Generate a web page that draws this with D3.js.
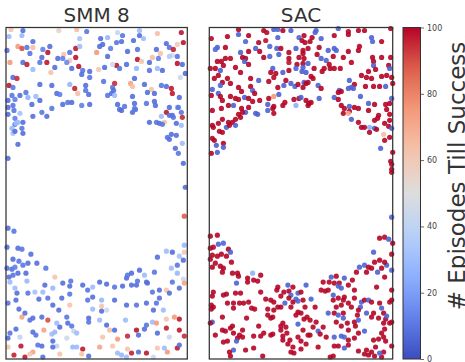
<!DOCTYPE html>
<html>
<head>
<meta charset="utf-8">
<script src="https://cdn.jsdelivr.net/npm/d3@7"></script>
<style>
  body { margin: 0; background: #fff; }
  svg { display: block; }
  text { font-family: "DejaVu Sans", sans-serif; }
</style>
</head>
<body>
<div id="chart"></div>
<script>
// panel titles
var titles = ["SMM 8", "SAC"];

// colorbar ticks
var cbTicks = [0, 20, 40, 60, 80, 100];
var cbLabel = "# Episodes Till Success";

// [x, y, episodes], x/y in arena units (0..182, 0..332)
var smmPoints = [
  [5,330,62],[17,329,8],[53,329,55],[71,330,64],[81,328,10],[3,323,30],[16,324,28],[74,321,32],
  [27,318,8],[12,313,75],[16,311,90],[21,312,10],[27,312,64],[1,309,8],[37,310,12],[44,313,8],
  [42,307,98],[70,311,97],[74,313,30],[58,305,62],[64,307,10],[52,301,8],[57,301,12],[64,299,60],
  [70,302,98],[4,297,75],[17,297,8],[24,306,10],[36,302,8],[41,297,97],[21,295,96],[34,297,10],
  [49,292,8],[61,297,14],[73,293,98],[66,291,8],[77,289,10],[84,288,8],[93,290,60],[27,290,30],
  [45,287,62],[76,285,8],[84,282,10],[7,282,8],[11,281,95],[3,274,97],[7,272,10],[34,275,8],
  [46,274,8],[64,275,28],[69,271,96],[72,266,64],[80,274,8],[80,269,10],[83,265,8],[51,266,8],
  [54,265,12],[20,267,10],[30,263,30],[22,262,26],[14,264,8],[6,264,10],[2,259,8],[9,260,12],
  [34,259,8],[57,255,8],[62,257,10],[66,257,8],[76,254,12],[84,255,8],[46,251,10],[2,252,8],
  [8,249,10],[14,246,32],[27,243,8],[36,247,10],[41,243,8],[9,241,12],[12,237,28],[17,237,8],
  [9,235,10],[2,245,8],
  [134,329,30],[112,327,42],[152,326,64],[176,327,97],[95,321,8],[102,322,28],[117,324,10],[134,324,8],
  [138,321,30],[128,319,8],[111,317,10],[116,318,8],[178,317,98],[172,315,60],[161,316,8],[164,312,10],
  [168,310,96],[97,315,8],[105,311,12],[94,313,8],[91,307,75],[122,308,8],[132,310,10],[151,310,8],
  [155,306,62],[147,302,64],[167,304,48],[164,303,35],[172,303,10],[102,303,8],[132,300,97],[136,298,62],
  [144,297,8],[153,301,12],[172,296,98],[177,295,8],[111,294,97],[107,295,45],[121,295,8],[114,291,10],
  [99,292,8],[131,291,28],[144,289,10],[152,291,30],[157,289,8],[175,282,45],[180,286,8],[129,281,8],
  [98,278,10],[109,276,95],[125,276,72],[127,273,64],[139,275,8],[156,274,10],[161,273,8],[166,271,97],
  [146,270,62],[142,267,8],[107,272,10],[108,269,8],[106,266,8],[109,264,30],[102,264,10],[127,263,8],
  [149,266,8],[167,266,97],[174,262,8],[112,255,8],[119,253,10],[129,256,8],[141,256,10],[149,258,8],
  [150,254,8],[129,251,12],[172,252,30],[116,249,8],[161,247,97],[167,244,8],[177,242,95],[176,247,10],
  [144,237,8],[151,237,10],[159,237,64],[171,236,8],
  [10,236,30],[6,231,28],[7,226,32],[9,228,8],[16,231,10],[17,226,8],[12,215,8],[2,201,8],
  [2,131,8],[8,128,10],[114,250,8],[127,247,8],[130,250,10],[164,252,8],[173,252,10],[156,243,30],
  [164,244,8],[168,242,10],[154,236,8],[157,235,10],[176,234,30],[166,225,8],[171,224,8],[162,222,10],
  [164,220,8],[177,216,30],[170,211,8],[173,206,10],[178,196,8],[180,172,8],[179,143,88],[26,255,8],
  [7,254,10],
  [1,112,8],[12,111,8],[16,110,10],[25,105,8],[7,100,8],[13,98,10],[1,91,8],[6,90,8],
  [9,92,12],[12,86,8],[17,94,10],[22,96,8],[31,96,8],[40,91,10],[3,82,8],[7,84,10],
  [4,77,30],[20,86,8],[21,78,28],[49,82,62],[57,76,8],[65,78,10],[64,73,8],[39,74,8],
  [37,67,30],[47,71,28],[9,71,30],[11,66,8],[22,66,10],[29,67,32],[33,60,8],[42,61,10],
  [47,54,8],[56,61,8],[64,54,62],[64,65,10],[10,59,8],[13,50,8],[2,56,10],[16,42,72],
  [19,46,8],[24,39,10],[27,41,8],[36,42,8],[42,39,90],[51,36,30],[53,49,8],[61,42,10],
  [62,36,8],[77,74,8],[82,69,10],[87,72,30],[94,77,8],[101,75,8],[109,72,10],[117,73,8],
  [121,81,8],[122,84,10],[126,86,8],[134,89,8],[139,84,30],[141,77,8],[149,87,10],[152,102,8],
  [161,108,30],[167,107,8],[174,103,32],[179,114,28],[179,107,60],[178,99,8],[172,94,10],[166,91,30],
  [172,86,28],[178,80,45],[179,76,72],[174,71,8],[167,77,10],[161,69,62],[164,66,8],[154,69,8],
  [147,67,10],[142,76,8],[131,74,8],[132,78,10],[126,74,8],[154,61,8],[151,56,10],[158,49,30],
  [148,49,8],[141,56,8],[131,54,10],[121,54,8],[109,59,8],[96,59,28],[87,62,8],[82,59,10],
  [96,53,62],[96,48,8],[87,50,30],[101,49,45],[83,41,8],[83,37,10],[94,39,30],[101,34,8],
  [104,29,64],[97,22,62],[109,29,8],[120,39,30],[131,29,98],[133,24,8],[122,23,95],[139,30,8],
  [141,34,10],[147,37,30],[151,36,75],[161,40,62],[169,42,75],[174,40,97],[161,31,96],[174,29,97],
  [179,23,95],[152,26,8],[164,22,42],[172,11,97],[174,14,8],[162,7,75],[159,11,30],[152,11,62],
  [148,2,45],[141,6,97],[133,7,8],[126,6,96],[121,2,30],[116,4,28],[112,6,30],[122,10,62],
  [112,20,75],[107,13,62],[94,12,72],[83,3,8],[77,10,97],[76,5,62],[71,12,30],[67,12,28],
  [54,5,62],[51,13,40],[47,12,8],[36,13,8],[32,14,10],[37,2,8],[27,7,72],[24,5,62],
  [19,2,97],[15,13,97],[8,4,96],[2,12,62],[2,21,8],[4,26,10],[10,30,8],[14,22,40],
  [27,27,8],[30,24,10],[38,29,72],[46,25,30],[49,27,28],[54,32,8],[66,33,10],[68,28,42],
  [71,26,30],[47,18,8],[61,21,45]
];

var sacPoints = [
  [29,330,100],[54,329,100],[57,327,99],[64,330,5],[68,330,6],[73,329,100],[81,329,5],[2,321,100],
  [18,323,100],[29,325,5],[36,318,6],[39,324,100],[49,317,100],[56,319,98],[68,322,5],[89,322,6],
  [92,319,100],[8,312,5],[6,310,7],[16,312,100],[31,307,5],[39,308,100],[46,311,5],[50,308,100],
  [60,313,6],[67,311,5],[71,311,100],[69,305,5],[79,307,100],[86,311,5],[93,309,100],[16,301,100],
  [21,301,99],[8,298,100],[12,298,100],[33,302,100],[36,301,100],[35,298,5],[39,295,100],[54,302,100],
  [60,303,6],[79,301,100],[89,302,100],[79,297,98],[87,295,100],[93,296,100],[6,291,100],[1,291,100],
  [11,289,5],[14,294,100],[26,292,100],[31,287,100],[63,291,5],[61,287,100],[66,286,100],[64,282,99],
  [73,287,5],[79,289,100],[86,291,6],[92,288,5],[9,284,100],[18,281,100],[5,281,100],[13,277,100],
  [21,276,100],[41,281,100],[49,279,5],[59,278,100],[76,279,100],[81,276,5],[85,273,6],[88,275,100],
  [94,277,5],[93,272,100],[74,274,5],[68,272,100],[3,270,5],[11,274,6],[29,272,100],[32,268,100],
  [41,273,100],[43,269,5],[45,266,100],[9,266,5],[11,263,100],[2,264,100],[21,263,100],[26,261,100],
  [29,260,99],[35,262,5],[39,261,100],[43,258,100],[50,259,100],[64,263,75],[69,265,5],[59,261,100],
  [58,255,5],[75,257,100],[84,260,100],[89,261,100],[86,254,25],[13,259,100],[19,254,100],[24,254,5],
  [12,251,100],[3,249,100],[32,251,100],[39,252,100],[48,245,5],[58,249,6],[63,251,100],[64,246,100],
  [29,245,100],[31,242,100],[26,240,100],[23,237,100],[19,237,100],[13,240,100],[9,236,100],
  [64,253,100],[73,254,100],[98,254,100],[101,257,100],[36,247,5],[46,246,5],[33,247,100],
  [106,329,5],[105,327,6],[128,331,5],[138,328,100],[138,325,100],[148,329,100],[154,329,100],[180,331,100],
  [94,324,100],[102,322,100],[111,321,5],[124,324,100],[161,322,5],[162,318,6],[171,318,100],[100,318,100],
  [95,317,100],[98,311,100],[109,312,100],[118,309,5],[124,311,5],[126,309,6],[138,308,100],[149,313,100],
  [148,309,100],[93,306,100],[107,305,100],[123,303,100],[133,302,100],[162,302,100],[163,298,100],[171,302,100],
  [180,302,100],[94,301,100],[98,296,5],[111,301,5],[116,299,6],[119,295,100],[124,291,100],[130,291,100],
  [141,297,100],[104,291,100],[93,292,5],[96,287,5],[114,291,100],[112,288,100],[120,291,100],[163,294,5],
  [158,288,100],[165,290,100],[178,294,100],[179,291,5],[101,283,100],[103,281,100],[151,284,100],[156,282,100],
  [161,281,100],[171,283,100],[176,284,100],[181,282,100],[139,279,5],[98,277,100],[108,274,5],[111,271,100],
  [96,276,100],[144,275,100],[141,272,5],[143,271,6],[138,271,5],[129,269,5],[128,267,100],[131,268,100],
  [155,273,100],[163,273,100],[169,273,100],[175,273,5],[182,276,100],[91,262,5],[109,261,5],[124,262,5],
  [128,260,100],[150,263,5],[164,255,100],[175,255,100],[181,261,5],[179,256,100],[96,259,100],[99,256,100],
  [131,254,100],[134,251,100],[139,253,5],[144,252,100],[139,248,100],[148,251,100],[133,246,100],[138,246,70],
  [141,240,5],[158,249,100],[168,244,100],[176,250,100],[179,245,100],[179,239,100],[164,239,100],[174,236,100],
  [158,256,5],[167,241,100],[148,237,100],[151,232,100],
  [3,234,100],[4,232,100],[10,228,100],[13,227,100],[17,232,5],[20,234,100],[26,234,5],[3,221,100],
  [5,219,100],[7,214,5],[14,216,100],[14,212,5],[8,207,5],[2,206,100],[159,232,25],[154,232,100],
  [159,227,100],[164,231,5],[166,230,100],[178,233,100],[181,231,5],[173,225,65],[179,222,100],[174,219,100],
  [170,211,5],[182,207,100],[180,198,100],[181,195,100],[181,190,100],[181,187,100],[181,142,5],
  [1,123,100],[8,124,100],[9,115,5],[14,116,6],[4,112,100],[1,111,100],[19,110,100],[21,107,5],
  [3,104,100],[8,103,100],[12,105,100],[17,103,100],[1,100,100],[6,96,100],[11,93,100],[14,91,100],
  [13,87,100],[22,97,100],[3,92,100],[23,86,100],[28,86,100],[27,76,5],[29,83,100],[38,81,100],
  [38,77,100],[43,86,25],[44,79,100],[48,78,100],[51,84,100],[4,67,100],[3,63,100],[2,54,100],
  [4,52,100],[2,50,100],[14,64,100],[17,65,100],[18,56,100],[24,56,100],[24,51,100],[26,66,100],
  [31,66,100],[30,56,100],[34,56,100],[39,57,100],[42,51,100],[45,50,100],[51,67,100],[37,41,100],
  [3,37,5],[1,36,100],[13,42,100],[6,24,100],[13,29,100],[16,28,100],[14,17,100],[18,18,100],
  [21,31,100],[23,33,100],[24,26,100],[28,21,100],[30,24,100],[33,22,100],[33,29,100],[27,18,5],
  [24,9,5],[20,7,100],[21,3,100],[36,9,100],[44,11,100],[49,33,100],[44,23,100],[51,23,100],
  [53,3,100],[54,26,100],[58,50,100],[58,44,100],[61,41,100],[63,42,100],[56,60,100],[61,59,100],
  [67,69,100],[64,57,100],[71,63,100],[71,33,100],[71,29,100],[73,36,100],[61,24,100],[63,25,100],
  [73,23,100],[80,19,100],[78,15,100],[81,7,100],[83,12,100],[84,6,100],[91,10,100],[88,22,100],
  [91,18,100],[96,15,100],[93,29,100],[100,24,100],[108,28,5],[110,25,100],[108,12,100],[116,22,100],
  [120,2,100],[123,3,100],[124,13,100],[128,13,100],[131,23,5],[134,22,6],[134,11,5],[138,14,100],
  [144,21,100],[148,26,100],[148,8,100],[156,9,100],[161,7,100],[165,12,100],[158,4,100],[164,3,100],
  [163,19,100],[168,20,100],[171,26,100],[173,22,100],[174,30,100],[175,40,100],[179,36,100],[181,37,100],
  [175,18,100],[181,13,100],[173,7,100],[171,2,100],[79,68,100],[81,64,5],[79,61,100],[86,60,5],
  [88,58,6],[93,59,100],[83,57,100],[88,66,5],[91,67,100],[96,74,5],[101,60,5],[105,52,100],
  [95,52,100],[91,46,100],[94,40,100],[97,42,100],[100,39,100],[88,47,100],[88,35,5],[111,69,100],
  [115,68,100],[118,69,100],[113,77,100],[119,77,100],[121,82,5],[126,83,100],[124,76,100],[129,76,100],
  [128,73,5],[131,71,5],[134,81,5],[138,74,100],[142,79,100],[144,69,100],[146,87,100],[149,92,5],
  [154,94,6],[158,92,100],[156,87,100],[161,91,100],[167,87,5],[171,91,100],[176,94,5],[181,89,5],
  [174,97,100],[169,99,100],[164,97,100],[163,107,5],[169,121,100],[174,122,100],[178,120,5],[182,116,100],
  [181,105,100],[174,82,100],[166,72,100],[181,69,100],[181,59,100],[179,57,100],[123,64,5],[123,59,100],
  [128,61,100],[133,59,100],[134,62,100],[138,56,100],[131,54,100],[126,52,100],[118,46,5],[124,46,100],
  [128,44,5],[133,41,5],[133,46,100],[126,37,100],[137,36,100],[138,29,100],[144,37,100],[145,33,100],
  [148,39,5],[151,57,5],[150,52,5],[154,59,100],[158,59,5],[161,57,100],[148,49,100],[156,46,5],
  [163,46,100],[161,42,100],[168,41,100],[171,51,5],[173,46,100],[154,28,5],[144,61,100],[141,52,100],
  [147,44,100],[169,56,100],[176,43,5],[173,36,100],[169,6,5],[154,5,100],[138,19,100],[124,22,5],
  [131,33,100],[113,32,100],[106,37,100],[103,32,100],[76,32,100],[77,26,100],[75,56,5],[71,52,100],
  [68,52,100],[64,49,100],[81,52,100],[86,44,100],[73,19,100],[78,74,5],[83,72,100],[68,72,100],
  [74,67,100],[98,24,100]
];

var width = 465,
    height = 362;

var panels = [
  { title: titles[0], data: smmPoints, left: 6, right: 187.3 },
  { title: titles[1], data: sacPoints, left: 209.3, right: 392.7 }
];
var plotTop = 27.5,
    plotBottom = 359;

var svg = d3.select("#chart")
    .append("svg")
    .attr("width", width)
    .attr("height", height);

// matplotlib coolwarm
var cwStops = ["#3b4cc0", "#6282ea", "#8db0fe", "#b8d0f9", "#dddddd",
               "#f5c4ac", "#f49a7b", "#de604d", "#b40426"];
var color = d3.scaleLinear()
    .domain(d3.range(cwStops.length).map(function (i) { return i * 100 / (cwStops.length - 1); }))
    .range(cwStops)
    .interpolate(d3.interpolateRgb)
    .clamp(true);

var y = d3.scaleLinear().domain([0, 332]).range([plotBottom, plotTop]);

panels.forEach(function (p) {
    var x = d3.scaleLinear().domain([0, 182]).range([p.left, p.right]);
    var g = svg.append("g");

    g.selectAll("circle")
        .data(p.data)
        .enter()
        .append("circle")
        .attr("cx", function (d) { return x(d[0]); })
        .attr("cy", function (d) { return y(d[1]); })
        .attr("r", 2.6)
        .style("fill", function (d) { return color(d[2]); })
        .style("fill-opacity", 0.9);

    g.append("rect")
        .attr("x", p.left)
        .attr("y", plotTop)
        .attr("width", p.right - p.left)
        .attr("height", plotBottom - plotTop)
        .style("fill", "none")
        .style("stroke", "#333")
        .style("stroke-width", 1.25);

    g.append("text")
        .attr("x", (p.left + p.right) / 2)
        .attr("y", 22)
        .attr("text-anchor", "middle")
        .style("font-size", "20px")
        .style("fill", "#333")
        .text(p.title);
});

/* ------- COLORBAR -------*/

var cbLeft = 403,
    cbWidth = 17.5;

var grad = svg.append("defs").append("linearGradient")
    .attr("id", "cw")
    .attr("x1", 0).attr("y1", 1)
    .attr("x2", 0).attr("y2", 0);

grad.selectAll("stop")
    .data(d3.range(0, 101, 5))
    .enter()
    .append("stop")
    .attr("offset", function (d) { return d + "%"; })
    .attr("stop-color", function (d) { return color(d); });

var cbScale = d3.scaleLinear().domain([0, 100]).range([plotBottom, plotTop]);

svg.append("rect")
    .attr("x", cbLeft)
    .attr("y", plotTop)
    .attr("width", cbWidth)
    .attr("height", plotBottom - plotTop)
    .style("fill", "url(#cw)")
    .style("stroke", "#333")
    .style("stroke-width", 1);

var cbAxis = svg.append("g")
    .attr("transform", "translate(" + (cbLeft + cbWidth) + ",0)")
    .call(d3.axisRight(cbScale).tickValues(cbTicks).tickSize(3.5).tickPadding(3));

cbAxis.select(".domain").remove();
cbAxis.selectAll("line").style("stroke", "#444").style("stroke-width", 0.8);
cbAxis.selectAll("text")
    .style("font-family", "DejaVu Sans, sans-serif")
    .style("font-size", "8px")
    .style("fill", "#444");

// label sits a little above the colorbar centre, as in the picture
svg.append("text")
    .attr("transform", "translate(465,176) rotate(-90)")
    .attr("text-anchor", "middle")
    .style("font-size", "23px")
    .style("fill", "#333")
    .text(cbLabel);
</script>
</body>
</html>
